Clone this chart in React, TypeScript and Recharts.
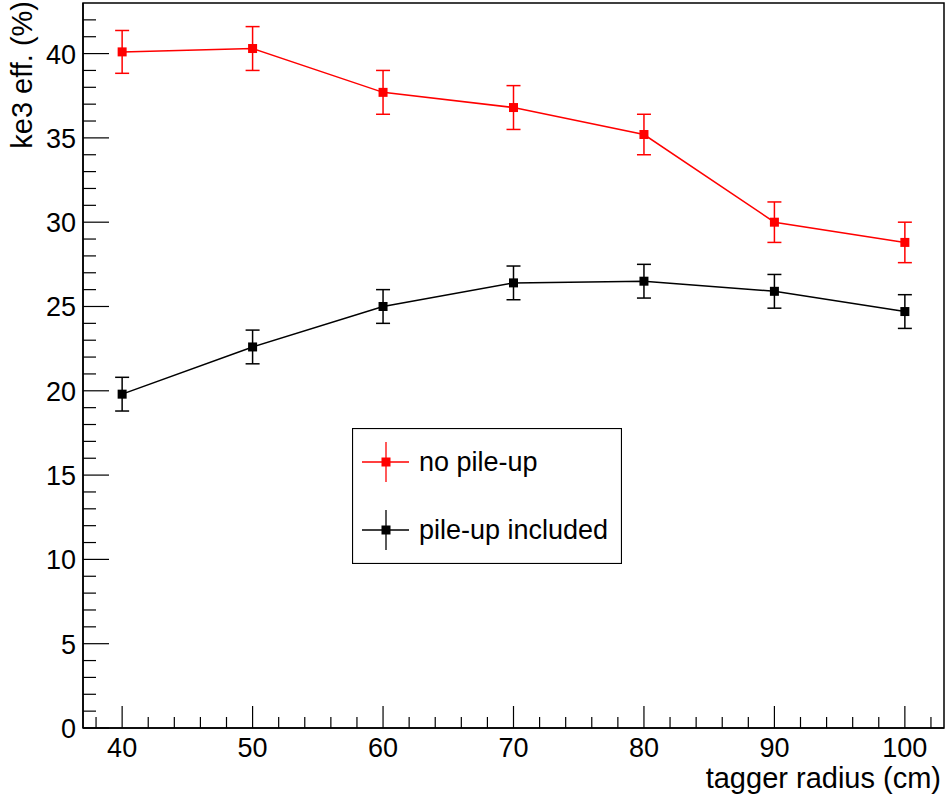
import React from "react";
import {
  ComposedChart,
  Line,
  XAxis,
  YAxis,
  ErrorBar,
  ReferenceArea,
  Legend,
  Label,
} from "recharts";

const radius = [40, 50, 60, 70, 80, 90, 100];
const noPileUp = [40.1, 40.3, 37.7, 36.8, 35.2, 30.0, 28.8];
const noPileUpErr = [1.27, 1.3, 1.3, 1.3, 1.2, 1.2, 1.2];
const pileUp = [19.8, 22.6, 25.0, 26.4, 26.5, 25.9, 24.7];
const pileUpErr = [1.0, 1.0, 1.0, 1.0, 1.0, 1.0, 1.0];

const xTicks = [38, 40, 42, 44, 46, 48, 50, 52, 54, 56, 58, 60, 62, 64, 66, 68, 70, 72, 74, 76, 78, 80, 82, 84, 86, 88, 90, 92, 94, 96, 98, 100, 102];
const xLabels = [40, 50, 60, 70, 80, 90, 100];
const yTicks = [0, 1, 2, 3, 4, 5, 6, 7, 8, 9, 10, 11, 12, 13, 14, 15, 16, 17, 18, 19, 20, 21, 22, 23, 24, 25, 26, 27, 28, 29, 30, 31, 32, 33, 34, 35, 36, 37, 38, 39, 40, 41, 42];
const yLabels = [0, 5, 10, 15, 20, 25, 30, 35, 40];

const data = radius.map((r, i) => ({
  r,
  noPU: noPileUp[i],
  noPUErr: noPileUpErr[i],
  pu: pileUp[i],
  puErr: pileUpErr[i],
}));

const FONT = "'Liberation Sans', Arial, Helvetica, sans-serif";

function XTick(props: any) {
  const { x, y, payload } = props;
  const v = payload.value;
  const major = xLabels.includes(v);
  return (
    <g>
      <line x1={x} x2={x} y1={y} y2={y - (major ? 22 : 11)} stroke="#000" strokeWidth={1.2} />
      {major && (
        <text x={x} y={y + 29} textAnchor="middle" fontSize={27} fontFamily={FONT} fill="#000">
          {v}
        </text>
      )}
    </g>
  );
}

function YTick(props: any) {
  const { x, y, payload } = props;
  const v = payload.value;
  const major = yLabels.includes(v);
  return (
    <g>
      <line x1={x} x2={x + (major ? 26 : 13)} y1={y} y2={y} stroke="#000" strokeWidth={1.2} />
      {major && (
        <text x={x - 7} y={y + 10} textAnchor="end" fontSize={27} fontFamily={FONT} fill="#000">
          {v}
        </text>
      )}
    </g>
  );
}

function square(color: string, size: number) {
  return (p: any) => (
    <rect
      key={p.index}
      x={p.cx - size / 2}
      y={p.cy - size / 2}
      width={size}
      height={size}
      fill={color}
    />
  );
}

function LegendBox() {
  const entries = [
    { label: "no pile-up", color: "#ff0000", y: 34 },
    { label: "pile-up included", color: "#000000", y: 102 },
  ];
  return (
    <svg width={270} height={136} style={{ display: "block" }}>
      <rect x={0.5} y={0.5} width={269} height={135} fill="#fff" stroke="#000" strokeWidth={1.2} />
      {entries.map((e) => (
        <g key={e.label}>
          <line x1={10} x2={57} y1={e.y} y2={e.y} stroke={e.color} strokeWidth={1.3} />
          <line x1={34} x2={34} y1={e.y - 20} y2={e.y + 20} stroke={e.color} strokeWidth={1.3} />
          <rect x={34 - 4.5} y={e.y - 4.5} width={9} height={9} fill={e.color} />
          <text x={67} y={e.y + 9} fontSize={27} fontFamily={FONT} fill="#000">
            {e.label}
          </text>
        </g>
      ))}
    </svg>
  );
}

export default function App() {
  return (
    <div style={{ position: "absolute", left: 0, top: 0, width: 947, height: 801, background: "#fff" }}>
      <ComposedChart
        width={947}
        height={801}
        data={data}
        margin={{ top: 3, right: 3, bottom: 0, left: 0 }}
      >
        <ReferenceArea x1={37} x2={103} y1={0} y2={43} fill="none" stroke="#000" strokeWidth={1.5} ifOverflow="extendDomain" />
        <XAxis
          type="number"
          dataKey="r"
          domain={[37, 103]}
          ticks={xTicks}
          interval={0}
          height={73}
          tickSize={0}
          tickMargin={0}
          tickLine={false}
          axisLine={{ stroke: "#000", strokeWidth: 1.5 }}
          tick={<XTick />}
        >
          <Label
            content={(p: any) => {
              const vb = p.viewBox;
              return (
                <text x={vb.x + vb.width - 3} y={vb.y + 60} textAnchor="end" fontSize={29} fontFamily={FONT} fill="#000">
                  tagger radius (cm)
                </text>
              );
            }}
          />
        </XAxis>
        <YAxis
          type="number"
          domain={[0, 43]}
          ticks={yTicks}
          interval={0}
          width={83}
          tickSize={0}
          tickMargin={0}
          tickLine={false}
          axisLine={{ stroke: "#000", strokeWidth: 1.5 }}
          tick={<YTick />}
        >
          <Label
            content={(p: any) => {
              const vb = p.viewBox;
              const ty = vb.y - 2;
              return (
                <text
                  x={32}
                  y={ty}
                  transform={`rotate(-90, 32, ${ty})`}
                  textAnchor="end"
                  fontSize={29}
                  fontFamily={FONT}
                  fill="#000"
                >
                  ke3 eff. (%)
                </text>
              );
            }}
          />
        </YAxis>
        <Line
          dataKey="noPU"
          stroke="#ff0000"
          strokeWidth={1.5}
          dot={square("#ff0000", 9)}
          activeDot={false}
          isAnimationActive={false}
        >
          <ErrorBar dataKey="noPUErr" width={7} stroke="#ff0000" strokeWidth={1.5} direction="y" />
        </Line>
        <Line
          dataKey="pu"
          stroke="#000000"
          strokeWidth={1.5}
          dot={square("#000000", 9)}
          activeDot={false}
          isAnimationActive={false}
        >
          <ErrorBar dataKey="puErr" width={7} stroke="#000000" strokeWidth={1.5} direction="y" />
        </Line>
        <Legend
          verticalAlign="middle"
          content={() => <LegendBox />}
          wrapperStyle={{ left: 352, top: 428, width: 270, height: 136 }}
        />
      </ComposedChart>
    </div>
  );
}
